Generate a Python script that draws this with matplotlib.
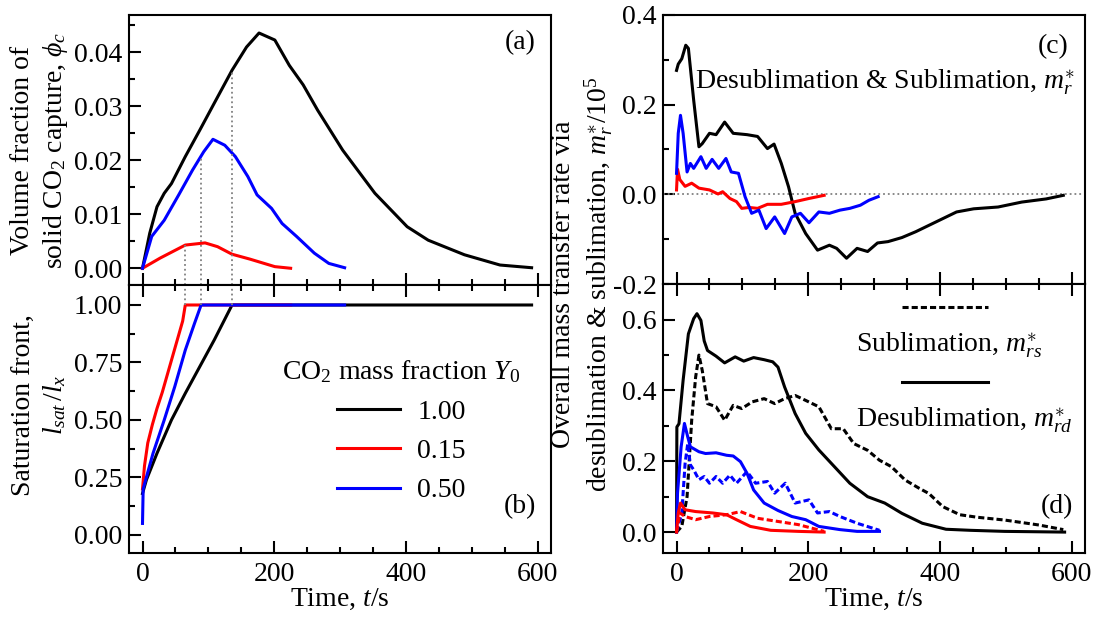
import matplotlib
matplotlib.use("Agg")
import matplotlib.pyplot as plt
import numpy as np
from matplotlib.ticker import MultipleLocator, FormatStrFormatter
from matplotlib.lines import Line2D

# ---- data ----
# (a) volume fraction of solid CO2
t_a_k = [0, 11, 22, 33, 44, 65, 87, 109, 136, 158, 177, 201, 223, 244, 266, 304, 353, 402, 434, 489, 543, 591]
phi_k = [0, 0.0065, 0.0114, 0.0139, 0.0157, 0.0207, 0.0256, 0.0306, 0.0367, 0.041, 0.0436, 0.0423, 0.0376,
         0.034, 0.0293, 0.0219, 0.0139, 0.0077, 0.0052, 0.0025, 0.0006, 0.0001]
t_a_b = [0, 14, 33, 55, 76, 93, 107, 125, 141, 160, 174, 196, 212, 234, 261, 283, 307]
phi_b = [0, 0.0059, 0.0089, 0.0136, 0.0182, 0.0216, 0.0239, 0.0228, 0.0207, 0.017, 0.0136, 0.0111, 0.0083,
         0.0059, 0.0028, 0.0009, 0.0001]
t_a_r = [0, 27, 65, 95, 114, 136, 163, 201, 225]
phi_r = [0, 0.0019, 0.0043, 0.0047, 0.004, 0.0026, 0.0017, 0.0003, 0.0]

# (b) saturation front
t_b_k = [0, 6, 22, 44, 65, 87, 109, 136, 591]
sat_k = [0.18, 0.24, 0.355, 0.5, 0.616, 0.732, 0.848, 1.0, 1.0]
t_b_r = [0, 3, 8, 15, 22, 30, 38, 46, 55, 61, 65, 225]
sat_r = [0.20, 0.30, 0.40, 0.48, 0.55, 0.62, 0.70, 0.78, 0.87, 0.93, 1.0, 1.0]
t_b_b = [0, 1, 16, 33, 49, 65, 79, 89, 307]
sat_b = [0.05, 0.2, 0.355, 0.5, 0.645, 0.804, 0.92, 1.0, 1.0]
t_sat = [136, 65, 89]  # black, red, blue

# (c) net mass transfer rate m_r*/1e5
t_c_k = [0, 2.6, 8, 14, 18, 26, 34, 39, 50, 60, 73, 86, 107, 123, 138, 148, 159, 170, 180, 196, 214, 232, 243,
         258, 274, 290, 305, 321, 342, 363, 394, 425, 451, 488, 524, 561, 587]
mr_k = [0.276, 0.29, 0.302, 0.332, 0.325, 0.21, 0.106, 0.113, 0.136, 0.133, 0.161, 0.136, 0.133, 0.129, 0.102,
        0.112, 0.069, 0.017, -0.042, -0.087, -0.124, -0.113, -0.12, -0.142, -0.12, -0.127, -0.108, -0.105,
        -0.096, -0.083, -0.061, -0.039, -0.032, -0.028, -0.017, -0.01, -0.002]
t_c_b = [0, 2.6, 6, 10, 16, 21, 26, 37, 45, 54, 64, 75, 83, 94, 104, 114, 125, 136, 149, 164, 175, 188, 201,
         216, 232, 248, 263, 279, 292, 306]
mr_b = [0.047, 0.136, 0.176, 0.136, 0.05, 0.069, 0.058, 0.084, 0.058, 0.078, 0.058, 0.08, 0.05, 0.047, -0.005,
        -0.042, -0.035, -0.076, -0.05, -0.087, -0.05, -0.042, -0.063, -0.039, -0.042, -0.035, -0.031, -0.024,
        -0.013, -0.005]
t_c_r = [0, 1.5, 5, 13, 23, 34, 50, 63, 70, 81, 91, 99, 110, 123, 138, 159, 180, 201, 224]
mr_r = [0.01, 0.056, 0.033, 0.018, 0.025, 0.014, 0.01, 0.001, 0.006, -0.009, -0.016, -0.031, -0.029, -0.031,
        -0.022, -0.022, -0.016, -0.009, -0.002]

# (d) desublimation (solid) and sublimation (dashed)
t_d_k = [0, 0.5, 3.7, 10, 18, 26, 31, 37, 42, 47, 60, 73, 89, 102, 117, 133, 146, 154, 164, 180, 196, 216,
         237, 263, 290, 316, 342, 373, 409, 446, 498, 589]
mrd_k = [0, 0.297, 0.306, 0.429, 0.56, 0.603, 0.617, 0.598, 0.54, 0.513, 0.497, 0.478, 0.495, 0.483, 0.493,
         0.487, 0.481, 0.466, 0.41, 0.335, 0.279, 0.232, 0.19, 0.138, 0.1, 0.082, 0.053, 0.025, 0.008, 0.005,
         0.002, 0]
t_s_k = [0, 8, 16, 23, 29, 34, 39, 47, 60, 73, 86, 99, 115, 133, 149, 164, 180, 196, 216, 235, 253, 269, 290,
         308, 326, 347, 368, 383, 404, 430, 456, 498, 550, 587]
mrs_k = [0, 0.016, 0.1, 0.316, 0.438, 0.5, 0.457, 0.363, 0.354, 0.316, 0.358, 0.349, 0.368, 0.377, 0.363,
         0.377, 0.386, 0.372, 0.354, 0.292, 0.292, 0.25, 0.231, 0.203, 0.185, 0.147, 0.124, 0.109, 0.072,
         0.049, 0.042, 0.034, 0.02, 0.007]
t_d_b = [0, 1.5, 7, 12, 17, 21, 34, 44, 60, 76, 86, 97, 107, 117, 133, 154, 175, 196, 216, 248, 274, 308]
mrd_b = [0, 0.11, 0.241, 0.307, 0.269, 0.241, 0.227, 0.222, 0.224, 0.217, 0.215, 0.199, 0.166, 0.119, 0.082,
         0.061, 0.044, 0.035, 0.016, 0.007, 0.002, 0.002]
t_s_b = [0, 8, 13, 17, 21, 26, 34, 42, 50, 60, 70, 81, 91, 107, 120, 138, 149, 165, 180, 201, 214, 232, 248,
         274, 308]
mrs_b = [0, 0.054, 0.194, 0.25, 0.19, 0.176, 0.148, 0.157, 0.138, 0.157, 0.138, 0.161, 0.138, 0.171, 0.138,
         0.143, 0.11, 0.138, 0.082, 0.091, 0.054, 0.058, 0.044, 0.025, 0.005]
t_d_r = [0, 2.6, 6, 13, 29, 55, 76, 91, 112, 143, 185, 224]
mrd_r = [0, 0.054, 0.082, 0.063, 0.058, 0.054, 0.049, 0.035, 0.016, 0.005, 0.002, 0]
t_s_r = [0, 5, 13, 29, 50, 76, 97, 123, 154, 185, 224]
mrs_r = [0, 0.054, 0.044, 0.035, 0.044, 0.049, 0.058, 0.039, 0.03, 0.021, 0.002]

labels = ["1.00", "0.15", "0.50"]
colors = ["black", "red", "blue"]

# ---- style ----
plt.rcParams['font.family'] = ['Liberation Serif', 'DejaVu Serif']
plt.rcParams['mathtext.fontset'] = 'custom'
plt.rcParams['mathtext.rm'] = 'Liberation Serif'
plt.rcParams['mathtext.it'] = 'Liberation Serif:italic'
plt.rcParams['axes.unicode_minus'] = False
plt.rcParams['font.size'] = 20

fig = plt.figure(figsize=(10.97, 6.19), dpi=100)
ax_a = fig.add_axes([0.1179, 0.5396, 0.3841, 0.4367])
ax_b = fig.add_axes([0.1179, 0.1061, 0.3841, 0.4335])
ax_c = fig.add_axes([0.6047, 0.5407, 0.3844, 0.4356])
ax_d = fig.add_axes([0.6047, 0.1061, 0.3844, 0.4346])


def style(ax, top=False, xlabels=True):
    ax.set_xlim(-20, 620)
    ax.xaxis.set_major_locator(MultipleLocator(200))
    ax.xaxis.set_minor_locator(MultipleLocator(50))
    ax.tick_params(which='both', direction='in', width=1.5, top=top, right=False, pad=5)
    ax.tick_params(which='major', length=8.5)
    ax.tick_params(which='minor', length=4.5)
    ax.tick_params(axis='x', labelbottom=xlabels, pad=6)
    for s in ax.spines.values():
        s.set_linewidth(1.5)
    if xlabels:
        ax.set_xlabel("Time, $t$/s", labelpad=0)


lw = 2.2
dash = (0, (2.0, 1.0))

# (a)
ylim_a = (-0.0031, 0.047)
ax_a.plot(t_a_k, phi_k, color='black', lw=lw)
ax_a.plot(t_a_r, phi_r, color='red', lw=lw)
ax_a.plot(t_a_b, phi_b, color='blue', lw=lw)
sat_phi = [np.interp(t_sat[0], t_a_k, phi_k), np.interp(t_sat[1], t_a_r, phi_r),
           np.interp(t_sat[2], t_a_b, phi_b)]
ax_a.vlines(t_sat, ylim_a[0], sat_phi, colors='gray', linestyles=':', lw=1.3)
ax_a.set_ylim(*ylim_a)
ax_a.yaxis.set_major_locator(MultipleLocator(0.01))
ax_a.yaxis.set_minor_locator(MultipleLocator(0.005))
ax_a.yaxis.set_major_formatter(FormatStrFormatter('%.2f'))
style(ax_a, xlabels=False)
ax_a.text(0.927, 0.895, "(a)", transform=ax_a.transAxes, ha='center', va='center')

# (b)
ylim_b = (-0.08, 1.087)
for t, v, c, lab in zip([t_b_k, t_b_r, t_b_b], [sat_k, sat_r, sat_b], colors, labels):
    ax_b.plot(t, v, color=c, lw=lw, label=lab)
ax_b.vlines(t_sat, 1.0, ylim_b[1], colors='gray', linestyles=':', lw=1.3)
ax_b.set_ylim(*ylim_b)
ax_b.yaxis.set_major_locator(MultipleLocator(0.25))
ax_b.yaxis.set_minor_locator(MultipleLocator(0.125))
ax_b.yaxis.set_major_formatter(FormatStrFormatter('%.2f'))
style(ax_b, top=True)
ax_b.text(0.927, 0.173, "(b)", transform=ax_b.transAxes, ha='center', va='center')
leg = ax_b.legend(title="CO$_2$ mass fraction $Y_0$", frameon=False, loc='center',
                  bbox_to_anchor=(0.645, 0.456), handlelength=2.3, handletextpad=0.6,
                  labelspacing=0.5, borderpad=0, fontsize=20, title_fontsize=20)

# (c)
ax_c.axhline(0, color='gray', ls=':', lw=1.3)
ax_c.plot(t_c_k, mr_k, color='black', lw=lw)
ax_c.plot(t_c_r, mr_r, color='red', lw=lw)
ax_c.plot(t_c_b, mr_b, color='blue', lw=lw)
ax_c.set_ylim(-0.2, 0.4)
ax_c.yaxis.set_major_locator(MultipleLocator(0.2))
ax_c.yaxis.set_minor_locator(MultipleLocator(0.1))
ax_c.yaxis.set_major_formatter(FormatStrFormatter('%.1f'))
style(ax_c, xlabels=False)
ax_c.text(0.924, 0.88, "(c)", transform=ax_c.transAxes, ha='center', va='center')
ax_c.text(0.975, 0.75, "Desublimation & Sublimation, $m_r^{\\ast}$", transform=ax_c.transAxes,
          ha='right', va='center')

# (d)
ax_d.plot(t_s_k, mrs_k, color='black', lw=lw, ls=dash)
ax_d.plot(t_d_k, mrd_k, color='black', lw=lw)
ax_d.plot(t_s_b, mrs_b, color='blue', lw=lw, ls=dash)
ax_d.plot(t_d_b, mrd_b, color='blue', lw=lw)
ax_d.plot(t_s_r, mrs_r, color='red', lw=lw, ls=dash)
ax_d.plot(t_d_r, mrd_r, color='red', lw=lw)
ax_d.set_ylim(-0.06, 0.7)
ax_d.yaxis.set_major_locator(MultipleLocator(0.2))
ax_d.yaxis.set_minor_locator(MultipleLocator(0.1))
ax_d.yaxis.set_major_formatter(FormatStrFormatter('%.1f'))
style(ax_d, top=True)
ax_d.text(0.933, 0.172, "(d)", transform=ax_d.transAxes, ha='center', va='center')
ax_d.add_line(Line2D([0.566, 0.77], [0.916, 0.916], transform=ax_d.transAxes, color='black', lw=lw, ls=dash))
ax_d.add_line(Line2D([0.566, 0.77], [0.637, 0.637], transform=ax_d.transAxes, color='black', lw=lw))
ax_d.text(0.457, 0.774, "Sublimation, $m_{rs}^{\\ast}$", transform=ax_d.transAxes, ha='left', va='center')
ax_d.text(0.457, 0.496, "Desublimation, $m_{rd}^{\\ast}$", transform=ax_d.transAxes, ha='left', va='center')

# y labels
fig.text(40 / 1097, 1 - 150 / 619, "Volume fraction of\nsolid CO$_2$ capture, $\\phi_c$",
         rotation=90, ha='center', va='center', multialignment='center', linespacing=1.25)
fig.text(40 / 1097, 1 - 405 / 619, "Saturation front,\n$l_{sat}\\,/l_x$",
         rotation=90, ha='center', va='center', multialignment='center', linespacing=1.25)
fig.text(583 / 1097, 1 - 284 / 619, "Overall mass transfer rate via\ndesublimation & sublimation, $m_r^{\\ast}/10^5$",
         rotation=90, ha='center', va='center', multialignment='center', linespacing=1.25)

fig.savefig("out.png", dpi=100)
